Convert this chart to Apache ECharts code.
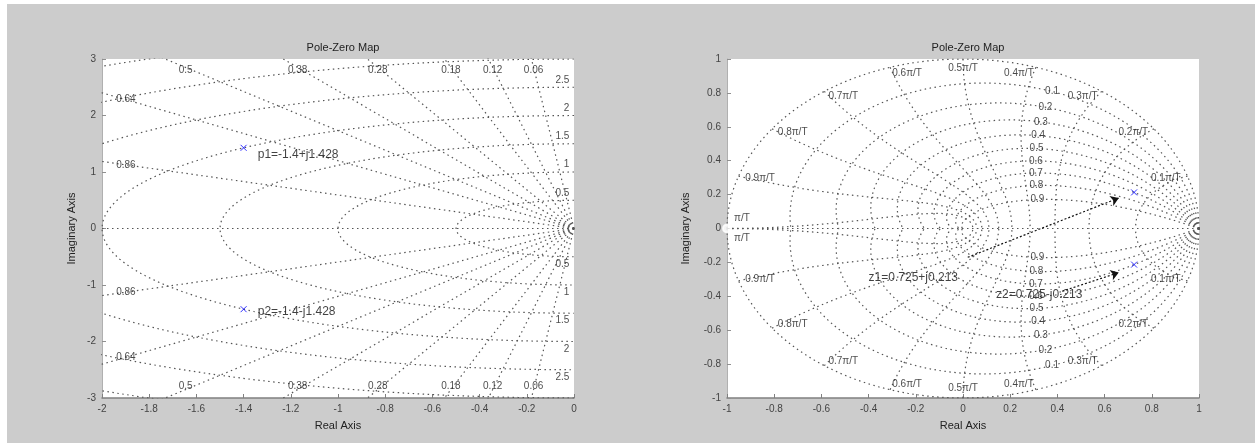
<!DOCTYPE html>
<html><head><meta charset="utf-8">
<script src="https://cdn.jsdelivr.net/npm/echarts@6/dist/echarts.min.js"></script>
<style>
html,body{margin:0;padding:0;background:#fff;width:1255px;height:443px;overflow:hidden}
#bg{position:absolute;left:7px;top:4px;width:1248px;height:439px;background:#cccccc}
#c{position:absolute;left:0;top:0;width:1255px;height:443px}
</style></head>
<body><div id="bg"></div><div id="c"></div>
<script>
// ---- data ----
const leftPolesRe = [-1.4, -1.4];
const leftPolesIm = [1.428, -1.428];
const leftNotes = ['p1=-1.4+j1.428', 'p2=-1.4-j1.428'];
const leftNoteRe = [-1.34, -1.34];
const leftNoteIm = [1.30, -1.47];

const rightPolesRe = [0.725, 0.725];
const rightPolesIm = [0.213, -0.213];
const rightZerosRe = [-1];
const rightZerosIm = [0];
const rightNotes = ['z1=0.725+j0.213', 'z2=0.725-j0.213'];
const rightNoteRe = [-0.40, 0.14];
const rightNoteIm = [-0.29, -0.39];
const arrowStart = [[0.02, -0.17], [0.42, -0.37]];
const arrowEnd = [[0.66, 0.18], [0.66, -0.26]];

// grid parameters (MATLAB sgrid / zgrid)
const sDamping = [0.06, 0.12, 0.18, 0.28, 0.38, 0.5, 0.64, 0.86];
const sDampTop = [0.06, 0.12, 0.18, 0.28, 0.38, 0.5];
const sDampSide = [0.64, 0.86];
const sWn = [0.5, 1, 1.5, 2, 2.5, 3, 3.5];
const sWnLabels = [0.5, 1, 1.5, 2, 2.5];
const zDamping = [0, 0.1, 0.2, 0.3, 0.4, 0.5, 0.6, 0.7, 0.8, 0.9];
const zWnK = [1, 2, 3, 4, 5, 6, 7, 8, 9, 10];

// tick settings
const leftX = {min: -2, max: 0, step: 0.2};
const leftY = {min: -3, max: 3, step: 1};
const rightX = {min: -1, max: 1, step: 0.2};
const rightY = {min: -1, max: 1, step: 0.2};

// ---- build ----
const FONT = 'Liberation Sans, Arial, sans-serif';
const GRID_LINE = {color: '#555555', width: 1.2, type: [1.5, 3.5]};
const series = [];
function gridLine(pts, idx) {
  series.push({type: 'line', xAxisIndex: idx, yAxisIndex: idx, data: pts, showSymbol: false,
    symbol: 'none', silent: true, clip: true, lineStyle: GRID_LINE, z: 1, animation: false});
}
// s-plane grid
gridLine([[-2, 0], [0, 0]], 0);
sDamping.forEach(z => {
  const s = Math.sqrt(1 - z * z), R = 5;
  gridLine([[0, 0], [-R * z, R * s]], 0);
  gridLine([[0, 0], [-R * z, -R * s]], 0);
});
sWn.forEach(w => {
  const pts = [];
  for (let i = 0; i <= 80; i++) { const t = Math.PI / 2 + Math.PI * i / 80; pts.push([w * Math.cos(t), w * Math.sin(t)]); }
  gridLine(pts, 0);
});
// z-plane grid
gridLine([[-1, 0], [1, 0]], 1);
zDamping.forEach(z => {
  const s = Math.sqrt(1 - z * z), wmax = Math.PI / s;
  const up = [], dn = [];
  for (let i = 0; i <= 120; i++) {
    const w = wmax * i / 120, r = Math.exp(-z * w), a = w * s;
    up.push([r * Math.cos(a), r * Math.sin(a)]); dn.push([r * Math.cos(a), -r * Math.sin(a)]);
  }
  gridLine(up, 1); gridLine(dn, 1);
});
zWnK.forEach(k => {
  const w = k * Math.PI / 10, up = [], dn = [];
  for (let i = 0; i <= 60; i++) {
    const z = i / 60, r = Math.exp(-z * w), a = w * Math.sqrt(1 - z * z);
    up.push([r * Math.cos(a), r * Math.sin(a)]); dn.push([r * Math.cos(a), -r * Math.sin(a)]);
  }
  gridLine(up, 1); gridLine(dn, 1);
});

// grid labels
function labelSeries(items, idx, size) {
  series.push({type: 'scatter', xAxisIndex: idx, yAxisIndex: idx, symbolSize: 0, silent: true, z: 3,
    animation: false, clip: false,
    data: items.map(it => ({value: [it.x, it.y], label: {show: true, position: 'inside', formatter: it.t,
      align: it.align || 'center', verticalAlign: 'middle', color: '#1a1a1a', fontSize: size || 9,
      fontFamily: FONT}}))});
}
const sLab = [];
sDampTop.forEach(z => {
  const x = -2.85 * z / Math.sqrt(1 - z * z);
  sLab.push({x: x, y: 2.8, t: String(z)}); sLab.push({x: x, y: -2.8, t: String(z)});
});
sDampSide.forEach(z => {
  const y = 1.9 * Math.sqrt(1 - z * z) / z;
  sLab.push({x: -1.94, y: y, t: String(z), align: 'left'}); sLab.push({x: -1.94, y: -y, t: String(z), align: 'left'});
});
sWnLabels.forEach(w => {
  sLab.push({x: -0.02, y: w + 0.13, t: String(w), align: 'right'});
  sLab.push({x: -0.02, y: -w - 0.13, t: String(w), align: 'right'});
});
labelSeries(sLab, 0, 10);

const zLab = [];
zDamping.slice(1).forEach(z => {
  const w = 1.14, s = Math.sqrt(1 - z * z), r = Math.exp(-z * w), a = w * s;
  zLab.push({x: r * Math.cos(a), y: r * Math.sin(a), t: String(z)});
  zLab.push({x: r * Math.cos(a), y: -r * Math.sin(a), t: String(z)});
});
zWnK.forEach(k => {
  const a = k * Math.PI / 10, t = (k === 10 ? '' : (k / 10).toString()) + 'π/T';
  if (k === 10) {
    zLab.push({x: -0.97, y: 0.06, t: t, align: 'left'}); zLab.push({x: -0.97, y: -0.06, t: t, align: 'left'});
    return;
  }
  const x = 0.97 * Math.cos(a), y = 0.965 * Math.sin(a);
  const al = k < 5 ? 'right' : (k > 5 ? 'left' : 'center');
  zLab.push({x: x, y: y - (k === 5 ? 0.02 : 0), t: t, align: al});
  zLab.push({x: x, y: -y + (k === 5 ? 0.02 : 0), t: t, align: al});
});
labelSeries(zLab, 1, 10);

// markers
const xSym = 'path://M0,0L10,10M10,0L0,10';
series.push({type: 'scatter', xAxisIndex: 0, yAxisIndex: 0, symbol: xSym, symbolSize: 6, z: 5,
  itemStyle: {color: 'rgba(0,0,0,0)', borderColor: '#0000ff', borderWidth: 1},
  data: leftPolesRe.map((v, i) => [v, leftPolesIm[i]])});
series.push({type: 'scatter', xAxisIndex: 1, yAxisIndex: 1, symbol: xSym, symbolSize: 6, z: 5,
  itemStyle: {color: 'rgba(0,0,0,0)', borderColor: '#0000ff', borderWidth: 1},
  data: rightPolesRe.map((v, i) => [v, rightPolesIm[i]])});
series.push({type: 'scatter', xAxisIndex: 1, yAxisIndex: 1, symbol: 'emptyCircle', symbolSize: 8, z: 5, clip: false,
  itemStyle: {color: '#fff', borderColor: '#0000ff', borderWidth: 1.5},
  data: rightZerosRe.map((v, i) => [v, rightZerosIm[i]])});

// annotations
function noteSeries(texts, xs, ys, idx, extra) {
  const s = {type: 'scatter', xAxisIndex: idx, yAxisIndex: idx, symbolSize: 0, silent: true, z: 6,
    data: texts.map((t, i) => ({value: [xs[i], ys[i]], label: {show: true, position: 'inside', formatter: t,
      align: 'left', verticalAlign: 'middle', color: '#111', fontSize: 12, fontFamily: FONT}}))};
  Object.assign(s, extra || {});
  series.push(s);
}
noteSeries(leftNotes, leftNoteRe, leftNoteIm, 0);
noteSeries(rightNotes, rightNoteRe, rightNoteIm, 1, {
  markLine: {silent: true, symbol: ['none', 'arrow'], symbolSize: 8, animation: false,
    label: {show: false}, lineStyle: {color: '#111', type: [2, 2], width: 1.2},
    data: arrowStart.map((p, i) => [{coord: p}, {coord: arrowEnd[i]}])}
});

function xAx(idx, r) {
  return {type: 'value', gridIndex: idx, min: r.min, max: r.max, interval: r.step,
    name: 'Real Axis', nameLocation: 'middle', nameGap: 22,
    nameTextStyle: {color: '#222', fontSize: 11, fontFamily: FONT},
    axisLine: {show: true, onZero: false, lineStyle: {color: '#808080', width: 1.5}},
    axisTick: {show: true, inside: true, length: 4, lineStyle: {color: '#808080'}},
    axisLabel: {color: '#444', fontSize: 10, margin: 6, fontFamily: FONT},
    splitLine: {show: false}};
}
function yAx(idx, r, gap) {
  return {type: 'value', gridIndex: idx, min: r.min, max: r.max, interval: r.step,
    name: 'Imaginary Axis', nameLocation: 'middle', nameGap: gap, nameRotate: 90,
    nameTextStyle: {color: '#222', fontSize: 11, fontFamily: FONT},
    axisLine: {show: true, onZero: false, lineStyle: {color: '#b0b0b0', width: 1}},
    axisTick: {show: true, inside: true, length: 4, lineStyle: {color: '#909090'}},
    axisLabel: {color: '#444', fontSize: 10, margin: 6, fontFamily: FONT},
    splitLine: {show: false}};
}

const chart = echarts.init(document.getElementById('c'), null, {renderer: 'canvas'});
chart.setOption({
  backgroundColor: 'transparent',
  animation: false,
  title: [
    {text: 'Pole-Zero Map', left: 338, top: 37, textAlign: 'center',
      textStyle: {fontSize: 11, fontWeight: 'normal', color: '#222', fontFamily: FONT}},
    {text: 'Pole-Zero Map', left: 963, top: 37, textAlign: 'center',
      textStyle: {fontSize: 11, fontWeight: 'normal', color: '#222', fontFamily: FONT}}
  ],
  grid: [
    {left: 102, top: 59, width: 472, height: 339, show: true, backgroundColor: '#ffffff', borderWidth: 0},
    {left: 727, top: 59, width: 472, height: 339, show: true, backgroundColor: '#ffffff', borderWidth: 0}
  ],
  xAxis: [xAx(0, leftX), xAx(1, rightX)],
  yAxis: [yAx(0, leftY, 25), yAx(1, rightY, 36)],
  series: series
});
</script></body></html>
